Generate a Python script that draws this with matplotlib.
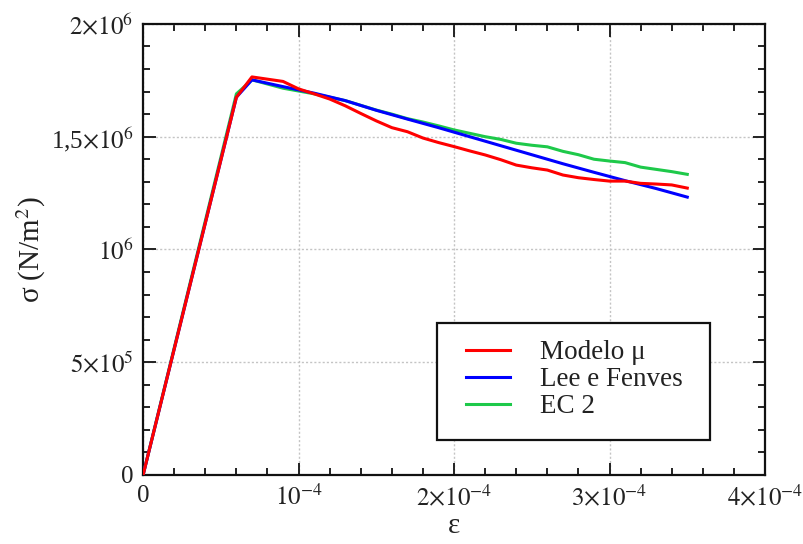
import matplotlib
matplotlib.use("Agg")
import matplotlib.pyplot as plt
from matplotlib.patches import Rectangle
from matplotlib.ticker import MultipleLocator, FixedLocator, FixedFormatter

# Strain values (x) and stress values (y, N/m^2) for the three models
strain_mu = [0, 6e-5, 7e-5, 9e-5, 1.0e-4, 1.1e-4, 1.2e-4, 1.3e-4, 1.4e-4, 1.5e-4,
             1.6e-4, 1.7e-4, 1.8e-4, 1.9e-4, 2.0e-4, 2.1e-4, 2.2e-4, 2.3e-4, 2.4e-4,
             2.5e-4, 2.6e-4, 2.7e-4, 2.8e-4, 2.9e-4, 3.0e-4, 3.1e-4, 3.2e-4, 3.3e-4,
             3.4e-4, 3.5e-4]
stress_mu = [0, 1.675e6, 1.765e6, 1.745e6, 1.712e6, 1.690e6, 1.667e6, 1.637e6, 1.603e6,
             1.570e6, 1.540e6, 1.522e6, 1.494e6, 1.474e6, 1.456e6, 1.437e6, 1.419e6,
             1.398e6, 1.374e6, 1.362e6, 1.352e6, 1.330e6, 1.318e6, 1.310e6, 1.303e6,
             1.303e6, 1.293e6, 1.290e6, 1.286e6, 1.272e6]

strain_lf = [0, 6e-5, 7e-5, 9e-5, 1.1e-4, 1.3e-4, 1.5e-4, 1.7e-4, 1.9e-4, 2.1e-4,
             2.3e-4, 2.5e-4, 2.7e-4, 2.9e-4, 3.1e-4, 3.3e-4, 3.5e-4]
stress_lf = [0, 1.675e6, 1.752e6, 1.722e6, 1.693e6, 1.660e6, 1.617e6, 1.578e6, 1.540e6,
             1.500e6, 1.460e6, 1.420e6, 1.380e6, 1.342e6, 1.305e6, 1.270e6, 1.232e6]

strain_ec2 = [0, 6e-5, 7e-5, 9e-5, 1.1e-4, 1.3e-4, 1.5e-4, 1.6e-4, 1.7e-4, 1.8e-4,
              1.9e-4, 2.0e-4, 2.1e-4, 2.2e-4, 2.3e-4, 2.4e-4, 2.5e-4, 2.6e-4, 2.7e-4,
              2.8e-4, 2.9e-4, 3.0e-4, 3.1e-4, 3.2e-4, 3.3e-4, 3.4e-4, 3.5e-4]
stress_ec2 = [0, 1.690e6, 1.752e6, 1.715e6, 1.690e6, 1.660e6, 1.618e6, 1.600e6, 1.580e6,
              1.565e6, 1.548e6, 1.530e6, 1.515e6, 1.500e6, 1.488e6, 1.471e6, 1.462e6,
              1.455e6, 1.435e6, 1.420e6, 1.400e6, 1.392e6, 1.385e6, 1.365e6, 1.355e6,
              1.345e6, 1.333e6]

series_labels = ["Modelo μ", "Lee e Fenves", "EC 2"]

x_ticks = [0, 1e-4, 2e-4, 3e-4, 4e-4]
x_tick_labels = ["0", r"$10^{-4}$", r"$2{\times}10^{-4}$", r"$3{\times}10^{-4}$", r"$4{\times}10^{-4}$"]
y_ticks = [0, 5e5, 1e6, 1.5e6, 2e6]
y_tick_labels = ["0", r"$5{\times}10^{5}$", r"$10^{6}$", r"1,5$\times10^{6}$", r"$2{\times}10^{6}$"]

plt.rcParams["font.family"] = ["Liberation Serif", "DejaVu Serif"]
plt.rcParams["mathtext.fontset"] = "stix"

fig = plt.figure(figsize=(8.04, 5.44), dpi=100)
ax = fig.add_axes([0.178, 0.127, 0.7735, 0.829])

ax.plot(strain_ec2, stress_ec2, color="#1ec94a", lw=2.2, label=series_labels[2], zorder=3)
ax.plot(strain_lf, stress_lf, color="#0000ff", lw=2.2, label=series_labels[1], zorder=4)
ax.plot(strain_mu, stress_mu, color="#ff0000", lw=2.2, label=series_labels[0], zorder=5)

ax.set_xlim(0, 4e-4)
ax.set_ylim(0, 2e6)

ax.xaxis.set_major_locator(FixedLocator(x_ticks))
ax.xaxis.set_major_formatter(FixedFormatter(x_tick_labels))
ax.xaxis.set_minor_locator(MultipleLocator(2e-5))
ax.yaxis.set_major_locator(FixedLocator(y_ticks))
ax.yaxis.set_major_formatter(FixedFormatter(y_tick_labels))
ax.yaxis.set_minor_locator(MultipleLocator(1e5))

ax.tick_params(which="both", direction="in", top=True, right=True, width=1.4,
               labelsize=18, colors="#222222")
ax.tick_params(which="major", length=9, pad=7)
ax.tick_params(which="minor", length=5)

for s in ax.spines.values():
    s.set_linewidth(1.6)
    s.set_color("#111111")

ax.grid(True, which="major", color="#c4c4c4", linestyle=(0, (1.5, 1.5)), linewidth=1.0)
ax.set_axisbelow(True)

ax.set_xlabel("ε", fontsize=21, color="#222222", labelpad=2)
ax.set_ylabel(r"σ (N/m$^{2}$)", fontsize=21, color="#222222", labelpad=2)

# Legend: a plain black box with the entries placed inside it
box = Rectangle((0.473, 0.078), 0.439, 0.259, transform=ax.transAxes,
                facecolor="white", edgecolor="#111111", linewidth=1.6, zorder=6)
ax.add_patch(box)

handles, labels = ax.get_legend_handles_labels()
order = [2, 1, 0]
leg = ax.legend([handles[i] for i in order], [labels[i] for i in order],
                loc="center left", bbox_to_anchor=(0.519, 0.2106),
                fontsize=19.5, frameon=False, borderpad=0,
                handlelength=1.63, handletextpad=1.1, labelspacing=0.075,
                borderaxespad=0)
leg.set_zorder(7)
for t in leg.get_texts():
    t.set_color("#222222")

fig.savefig("out.png", dpi=100)
